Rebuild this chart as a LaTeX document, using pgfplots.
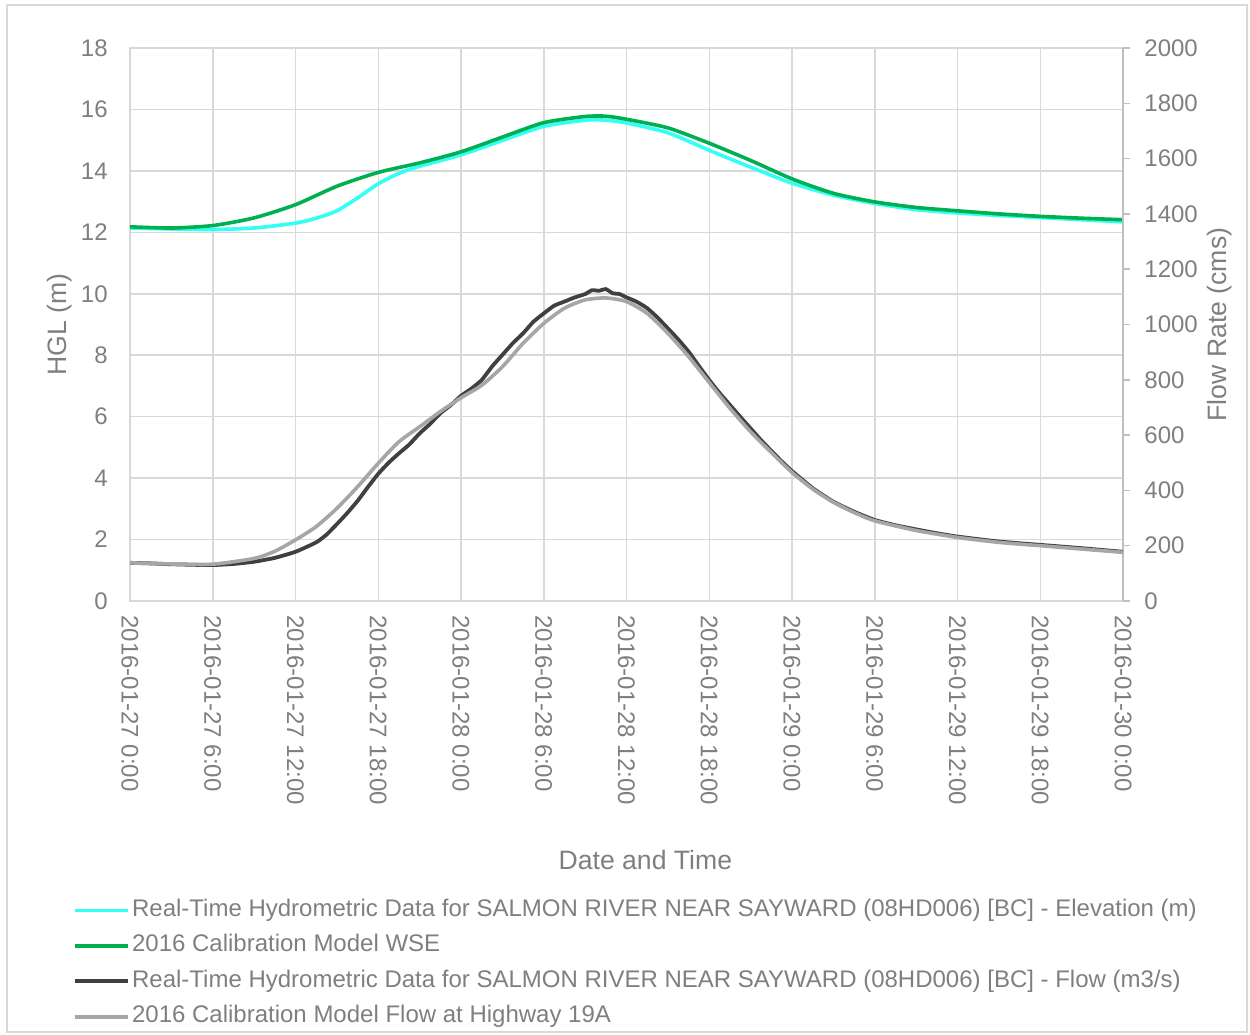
\documentclass[border=0pt]{standalone}
\usepackage{pgfplots}
\pgfplotsset{compat=1.18}
\usepackage{fontspec}
\setmainfont{Liberation Sans}
\definecolor{cyanl}{HTML}{33FFF5}
\definecolor{greenl}{HTML}{00B050}
\definecolor{darkl}{HTML}{404040}
\definecolor{grayl}{HTML}{A6A6A6}
\definecolor{gridc}{HTML}{D9D9D9}
\definecolor{axisc}{HTML}{BFBFBF}
\definecolor{textc}{HTML}{7F7F7F}
\begin{document}
\begin{tikzpicture}
\useasboundingbox (0,0) rectangle (625bp,517.5bp);
\draw[color=gridc, line width=0.6bp] (3.5bp,1.5bp) rectangle (623.5bp,515bp);
\begin{axis}[
  at={(65bp,217bp)}, anchor=south west,
  scale only axis, width=496.5bp, height=276.5bp,
  xmin=0, xmax=72, ymin=0, ymax=18,
  xtick={0,6,...,72},
  xticklabels={2016-01-27 0:00,2016-01-27 6:00,2016-01-27 12:00,2016-01-27 18:00,2016-01-28 0:00,2016-01-28 6:00,2016-01-28 12:00,2016-01-28 18:00,2016-01-29 0:00,2016-01-29 6:00,2016-01-29 12:00,2016-01-29 18:00,2016-01-30 0:00},
  ytick={0,2,...,18},
  grid=major, grid style={color=gridc, line width=0.75bp},
  axis line style={color=gridc, line width=0.75bp},
  major tick length=0pt,
  /pgf/number format/assume math mode=true,
  tick label style={font=\fontsize{12bp}{14bp}\selectfont, color=textc, inner sep=0pt},
  xticklabel style={rotate=-90, anchor=west},
  xticklabel shift=7bp,
  yticklabel style={anchor=east},
  yticklabel shift=11bp,
  xlabel={Date and Time},
  xlabel style={at={(axis description cs:0.519,-0.4684)}, anchor=center, font=\fontsize{13.3bp}{15bp}\selectfont, color=textc},
  ylabel={HGL (m)},
  ylabel style={at={(axis description cs:-0.0705,0.5)}, anchor=center, font=\fontsize{13.3bp}{15bp}\selectfont, color=textc},
]
\addplot[cyanl, line width=1.8bp, smooth, tension=0.4] coordinates {
(0,12.14) (3,12.11) (6,12.09) (9,12.14) (12,12.30) (13.5,12.46) (15,12.70) (16.5,13.12) (18,13.58) (19.5,13.92) (21,14.15) (24,14.52) (27,14.99) (30,15.45) (33,15.65) (34.5,15.65) (36,15.56) (39,15.24) (42,14.67) (45,14.12) (48,13.60) (51,13.21) (54,12.94) (57,12.74) (60,12.63) (63,12.55) (66,12.48) (69,12.41) (72,12.34)};
\addplot[greenl, line width=1.8bp, smooth, tension=0.4] coordinates {
(0,12.18) (3,12.14) (6,12.22) (9,12.47) (12,12.90) (15,13.50) (18,13.95) (21,14.26) (24,14.62) (27,15.10) (30,15.57) (33,15.77) (34.5,15.78) (36,15.68) (39,15.40) (42,14.90) (45,14.34) (48,13.74) (51,13.27) (54,12.99) (57,12.81) (60,12.70) (63,12.60) (66,12.52) (69,12.46) (72,12.41)};
\end{axis}
\begin{axis}[
  at={(65bp,217bp)}, anchor=south west,
  scale only axis, width=496.5bp, height=276.5bp,
  xmin=0, xmax=72, ymin=0, ymax=2000,
  axis x line=none, axis y line*=right,
  ytick={0,200,...,2000},
  axis line style={color=axisc, line width=0.75bp},
  tick align=outside, major tick length=3.5bp,
  tick style={color=axisc, line width=0.75bp},
  /pgf/number format/assume math mode=true,
  /pgf/number format/set thousands separator={},
  tick label style={font=\fontsize{12bp}{14bp}\selectfont, color=textc, inner sep=0pt},
  yticklabel style={anchor=west},
  yticklabel shift=7bp,
  ylabel={Flow Rate (cms)},
  ylabel style={at={(axis description cs:1.0977,0.5)}, anchor=center, rotate=0, font=\fontsize{13.3bp}{15bp}\selectfont, color=textc},
  legend style={at={(axis description cs:-0.0635,-0.5262)}, anchor=north west, draw=none, fill=none, row sep=3.75bp,
    nodes={inner sep=1bp, text height=9bp, text depth=3bp, font=\fontsize{12bp}{14bp}\selectfont, text=textc}},
  legend cell align=left,
  legend image code/.code={\draw[#1] (0bp,0bp) -- (26.5bp,0bp);},
]
\addlegendimage{cyanl, line width=1.8bp}
\addlegendentry{Real-Time Hydrometric Data for SALMON RIVER NEAR SAYWARD (08HD006) [BC] - Elevation (m)}
\addlegendimage{greenl, line width=1.8bp}
\addlegendentry{2016 Calibration Model WSE}
\addplot[darkl, line width=1.9bp, smooth, tension=0.3] coordinates {
(0,138) (1.5,136) (3,133) (4.5,131) (6,130) (7.5,134) (9,142) (10.5,156) (12,178) (13.5,212) (14.25,240) (15,278) (15.75,318) (16.5,362) (17.25,412) (18,460) (18.75,500) (19.5,534) (20.25,566) (21,606) (21.75,640) (22.5,679) (23.25,708) (24,742) (24.75,768) (25.5,799) (26.25,848) (27,890) (27.75,932) (28.5,968) (29.25,1010) (30,1040) (30.75,1068) (31.5,1083) (32.25,1098) (33,1110) (33.5,1124) (34,1122) (34.5,1128) (35,1113) (35.5,1110) (36,1098) (36.75,1082) (37.5,1059) (38.25,1025) (39,986) (39.75,946) (40.5,902) (41.25,850) (42,799) (42.75,752) (43.5,709) (44.25,666) (45,624) (45.75,582) (46.5,543) (47.25,505) (48,470) (49.5,408) (51,359) (52.5,323) (54,293) (55.5,274) (57,259) (58.5,245) (60,233) (63,215) (66,203) (69,191) (72,178)};
\addlegendentry{Real-Time Hydrometric Data for SALMON RIVER NEAR SAYWARD (08HD006) [BC] - Flow (m3/s)}
\addplot[grayl, line width=1.8bp, smooth, tension=0.4] coordinates {
(0,138) (3,134) (6,133) (9,154) (10.5,180) (12,221) (13.5,269) (15,335) (16.5,413) (18,498) (19.5,576) (21,630) (22.5,685) (24,735) (25.5,780) (27,847) (28.5,932) (30,1004) (31.5,1059) (33,1089) (34.5,1096) (36,1083) (37.5,1040) (39,968) (40.5,884) (42,790) (43.5,697) (45,612) (46.5,537) (48,465) (49.5,405) (51,357) (52.5,320) (54,290) (57,255) (60,230) (63,212) (66,200) (69,188) (72,176)};
\addlegendentry{2016 Calibration Model Flow at Highway 19A}
\end{axis}
\end{tikzpicture}
\end{document}
